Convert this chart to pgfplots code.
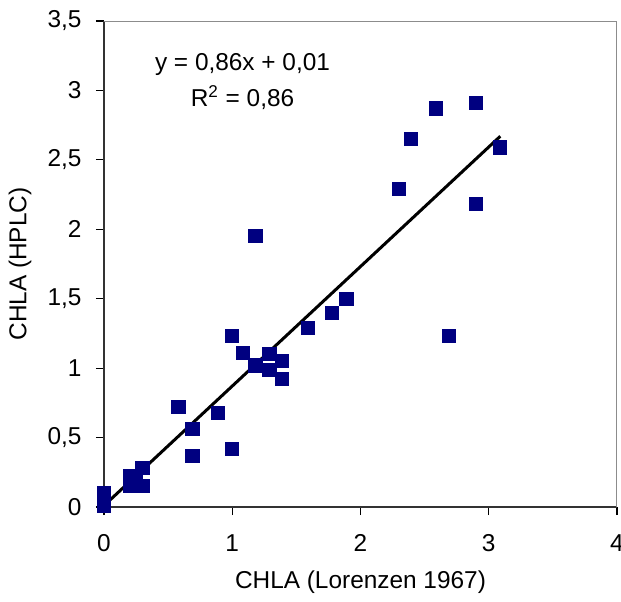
\documentclass[border=0pt]{standalone}
\usepackage{pgfplots}
\pgfplotsset{compat=1.18}
\usepackage{fontspec}
\setmainfont{Liberation Sans}
\definecolor{navy}{RGB}{0,0,128}
\begin{document}
\fontsize{12.2}{14.6}\selectfont
\begin{tikzpicture}
\path[use as bounding box] (-52pt,-47pt) rectangle (258.5pt,253.5pt);
\begin{axis}[
  at={(0,0)}, anchor=south west,
  scale only axis, width=256.5pt, height=243pt,
  xmin=0, xmax=4, ymin=0, ymax=3.5,
  xtick={0,1,2,3,4}, ytick={0,0.5,1,1.5,2,2.5,3,3.5},
  axis x line*=bottom, axis y line*=left,
  axis line style={line width=0.9pt, draw=black!80, -},
  tick align=outside, major tick length=4pt,
  tick style={line width=0.6pt, black},
  /pgf/number format/assume math mode=true,
  /pgf/number format/use comma,
  ticklabel style={font=\fontsize{12.2}{14.6}\selectfont},
  xticklabel style={yshift=-5.5pt},
  yticklabel style={xshift=-3pt},
  xlabel={CHLA (Lorenzen 1967)},
  ylabel={CHLA (HPLC)},
  label style={font=\fontsize{12.2}{14.6}\selectfont},
  xlabel style={at={(axis description cs:0.5,0)}, anchor=center, yshift=-37.5pt},
  ylabel style={at={(axis description cs:0,0.5)}, anchor=center, yshift=42pt},
  clip=false,
]
\draw[black!45, line width=0.5pt] (rel axis cs:0,1) -- (rel axis cs:1,1) -- (rel axis cs:1,0);
\addplot[only marks, mark=square*, mark size=3.3pt, mark options={fill=navy, draw=navy}] coordinates {
(0,0.1) (0,0.01)
(0.2,0.22) (0.2,0.15) (0.3,0.28) (0.3,0.15) (0.25,0.2)
(0.58,0.72) (0.69,0.56) (0.69,0.37) (0.89,0.68) (1.0,0.42)
(1.0,1.23) (1.08,1.11) (1.18,1.02) (1.29,1.1) (1.29,0.99)
(1.39,1.05) (1.39,0.92) (1.59,1.29) (1.78,1.4) (1.89,1.5)
(2.69,1.23) (1.18,1.95) (2.3,2.29) (2.39,2.65) (2.59,2.87)
(2.9,2.91) (3.09,2.59) (2.9,2.18)
};
\addplot[black, line width=1.5pt] coordinates {(0,0.01) (3.09,2.67)};
\node at (axis cs:1.08,3.19) {y = 0,86x + 0,01};
\node at (axis cs:1.08,2.95) {R\textsuperscript{2} = 0,86};
\end{axis}
\end{tikzpicture}
\end{document}
